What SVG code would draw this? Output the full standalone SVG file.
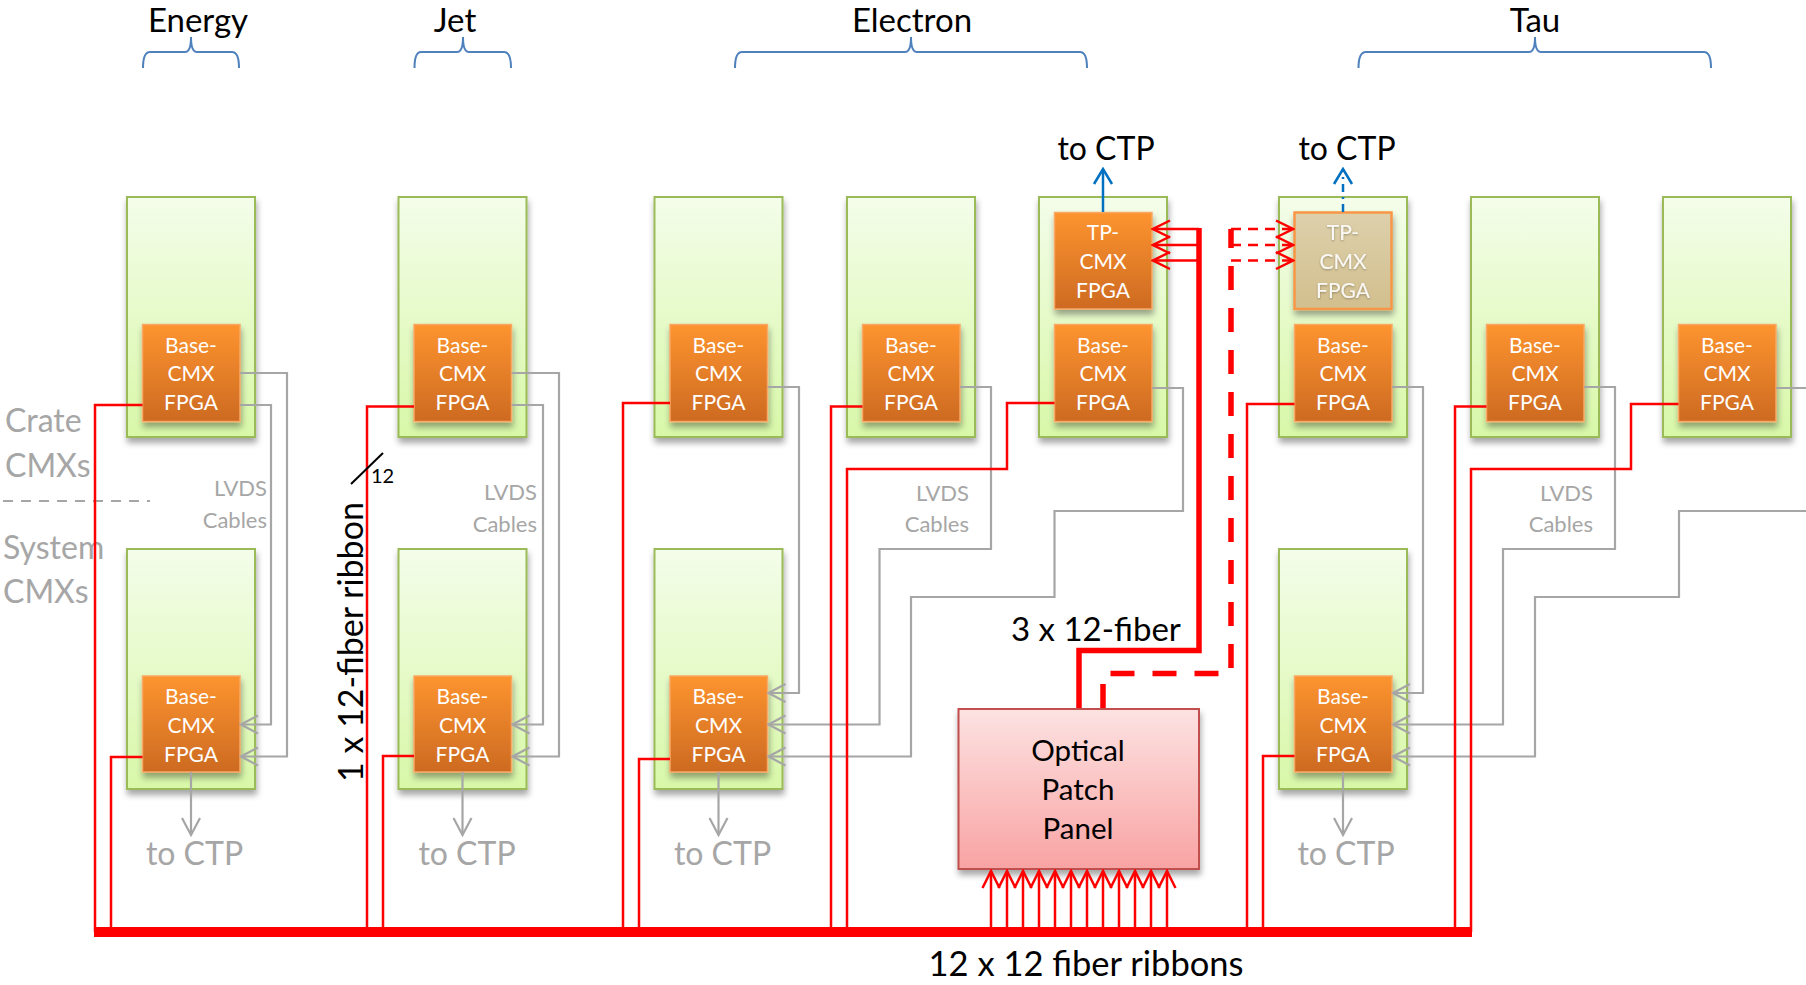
<svg xmlns="http://www.w3.org/2000/svg" width="1806" height="985" viewBox="0 0 1806 985">
<defs>
<linearGradient id="gGreen" x1="0" y1="0" x2="0" y2="1"><stop offset="0" stop-color="#f4fdea"/><stop offset="1" stop-color="#d8f8a8"/></linearGradient>
<linearGradient id="gOrange" x1="0" y1="0" x2="0" y2="1"><stop offset="0" stop-color="#fd942f"/><stop offset="1" stop-color="#cd6a22"/></linearGradient>
<linearGradient id="gBeige" x1="0" y1="0" x2="0" y2="1"><stop offset="0" stop-color="#ddd0ab"/><stop offset="1" stop-color="#d2bf8e"/></linearGradient>
<linearGradient id="gPink" x1="0" y1="0" x2="0" y2="1"><stop offset="0" stop-color="#fde2e2"/><stop offset="1" stop-color="#f9a3a3"/></linearGradient>
<filter id="sh" x="-20%" y="-20%" width="140%" height="140%"><feDropShadow dx="1" dy="5" stdDeviation="3" flood-color="#000" flood-opacity="0.35"/></filter>
<filter id="tsh" x="-20%" y="-20%" width="140%" height="140%"><feDropShadow dx="0" dy="1" stdDeviation="1" flood-color="#000" flood-opacity="0.35"/></filter>
<marker id="aGray" viewBox="-20 -11 22 22" refX="0" refY="0" markerWidth="22" markerHeight="22" markerUnits="userSpaceOnUse" orient="auto"><path d="M-17,-9 L0,0 L-17,9" fill="none" stroke="#a6a6a6" stroke-width="2.2"/></marker>
<marker id="aRed" viewBox="-20 -11 22 22" refX="0" refY="0" markerWidth="22" markerHeight="22" markerUnits="userSpaceOnUse" orient="auto"><path d="M-17,-8.5 L0,0 L-17,8.5" fill="none" stroke="#ff0000" stroke-width="2.5"/></marker>
<marker id="aBlue" viewBox="-20 -11 22 22" refX="0" refY="0" markerWidth="22" markerHeight="22" markerUnits="userSpaceOnUse" orient="auto"><path d="M-15,-9 L0,0 L-15,9" fill="none" stroke="#0070c0" stroke-width="2.5"/></marker>
</defs>
<style>
.box{fill:url(#gGreen);stroke:#9bbb59;stroke-width:2;filter:url(#sh)}
.fpga{fill:url(#gOrange);stroke:#f9a866;stroke-width:1.5;filter:url(#sh)}
.tpoff{fill:url(#gBeige);stroke:#f79646;stroke-width:2.5;filter:url(#sh)}
.ft{font-family:Lato,"Open Sans",sans-serif;font-size:21px;fill:#fff;text-anchor:middle}
.ftoff{font-family:Lato,"Open Sans",sans-serif;font-size:21px;fill:#fff;fill-opacity:0.9;text-anchor:middle;filter:url(#tsh)}
.hdr{font-family:Lato,"Open Sans",sans-serif;font-size:33px;fill:#000;text-anchor:middle}
.blk{font-family:Lato,"Open Sans",sans-serif;fill:#000}
.gt{font-family:Lato,"Open Sans",sans-serif;font-size:32px;fill:#a6a6a6}
.lv{font-family:Lato,"Open Sans",sans-serif;font-size:22px;fill:#a6a6a6;text-anchor:end}
.brace{fill:none;stroke:#4f81bd;stroke-width:2}
.red{fill:none;stroke:#ff0000;stroke-width:2.5}
.gray{fill:none;stroke:#a6a6a6;stroke-width:2.2}
</style>
<rect width="1806" height="985" fill="#ffffff"/>

<!-- headers -->
<g id="headers">
<text class="hdr" x="198" y="32">Energy</text>
<text class="hdr" x="455" y="32">Jet</text>
<text class="hdr" x="912" y="32">Electron</text>
<text class="hdr" x="1535" y="32">Tau</text>
<path class="brace" d="M143,68 Q143,52 150,52 H185 Q191,52 191,37 Q191,52 197,52 H232 Q239,52 239,68"/>
<path class="brace" d="M414.5,68 Q414.5,52 421,52 H457 Q463,52 463,37 Q463,52 469,52 H504 Q511,52 511,68"/>
<path class="brace" d="M735,68 Q735,52 742,52 H905 Q911,52 911,37 Q911,52 917,52 H1080 Q1087,52 1087,68"/>
<path class="brace" d="M1358.5,68 Q1358.5,52 1366,52 H1529 Q1535,52 1535,37 Q1535,52 1541,52 H1704 Q1711,52 1711,68"/>
</g>

<!-- side labels -->
<g id="side-labels">
<text class="gt" x="5" y="432">Crate</text>
<text class="gt" x="5" y="477">CMXs</text>
<path d="M3,501 H150" fill="none" stroke="#a6a6a6" stroke-width="2" stroke-dasharray="10 8"/>
<text class="gt" x="3" y="559">System</text>
<text class="gt" x="3" y="603">CMXs</text>
</g>

<!-- crate CMX nodes (top row) -->
<g id="energy-crate"><rect class="box" x="127" y="197" width="128" height="240"/><rect class="fpga" x="142.5" y="324.5" width="97.5" height="97"/><text class="ft" x="191" y="352.5">Base-</text><text class="ft" x="191" y="381">CMX</text><text class="ft" x="191" y="409.5">FPGA</text></g>
<g id="jet-crate"><rect class="box" x="398.5" y="197" width="128" height="240"/><rect class="fpga" x="414" y="324.5" width="97.5" height="97"/><text class="ft" x="462.5" y="352.5">Base-</text><text class="ft" x="462.5" y="381">CMX</text><text class="ft" x="462.5" y="409.5">FPGA</text></g>
<g id="electron-crate-1"><rect class="box" x="654.5" y="197" width="128" height="240"/><rect class="fpga" x="670" y="324.5" width="97.5" height="97"/><text class="ft" x="718.5" y="352.5">Base-</text><text class="ft" x="718.5" y="381">CMX</text><text class="ft" x="718.5" y="409.5">FPGA</text></g>
<g id="electron-crate-2"><rect class="box" x="847" y="197" width="128" height="240"/><rect class="fpga" x="862.5" y="324.5" width="97.5" height="97"/><text class="ft" x="911" y="352.5">Base-</text><text class="ft" x="911" y="381">CMX</text><text class="ft" x="911" y="409.5">FPGA</text></g>
<g id="electron-crate-3"><rect class="box" x="1039" y="197" width="128" height="240"/><rect class="fpga" x="1054.5" y="212.5" width="97.5" height="96.5"/><text class="ft" x="1103" y="240">TP-</text><text class="ft" x="1103" y="269">CMX</text><text class="ft" x="1103" y="298">FPGA</text><rect class="fpga" x="1054.5" y="324.5" width="97.5" height="97"/><text class="ft" x="1103" y="352.5">Base-</text><text class="ft" x="1103" y="381">CMX</text><text class="ft" x="1103" y="409.5">FPGA</text></g>
<g id="tau-crate-1"><rect class="box" x="1279" y="197" width="128" height="240"/><rect class="tpoff" x="1294.5" y="212.5" width="97" height="96.5"/><text class="ftoff" x="1343" y="240">TP-</text><text class="ftoff" x="1343" y="269">CMX</text><text class="ftoff" x="1343" y="298">FPGA</text><rect class="fpga" x="1294.5" y="324.5" width="97.5" height="97"/><text class="ft" x="1343" y="352.5">Base-</text><text class="ft" x="1343" y="381">CMX</text><text class="ft" x="1343" y="409.5">FPGA</text></g>
<g id="tau-crate-2"><rect class="box" x="1471" y="197" width="128" height="240"/><rect class="fpga" x="1486.5" y="324.5" width="97.5" height="97"/><text class="ft" x="1535" y="352.5">Base-</text><text class="ft" x="1535" y="381">CMX</text><text class="ft" x="1535" y="409.5">FPGA</text></g>
<g id="tau-crate-3"><rect class="box" x="1663" y="197" width="128" height="240"/><rect class="fpga" x="1678.5" y="324.5" width="97.5" height="97"/><text class="ft" x="1727" y="352.5">Base-</text><text class="ft" x="1727" y="381">CMX</text><text class="ft" x="1727" y="409.5">FPGA</text></g>

<!-- system CMX nodes (bottom row) -->
<g id="energy-system"><rect class="box" x="127" y="549" width="128" height="240"/><rect class="fpga" x="142.5" y="676" width="97.5" height="96"/><text class="ft" x="191" y="704">Base-</text><text class="ft" x="191" y="733">CMX</text><text class="ft" x="191" y="761.5">FPGA</text></g>
<g id="jet-system"><rect class="box" x="398.5" y="549" width="128" height="240"/><rect class="fpga" x="414" y="676" width="97.5" height="96"/><text class="ft" x="462.5" y="704">Base-</text><text class="ft" x="462.5" y="733">CMX</text><text class="ft" x="462.5" y="761.5">FPGA</text></g>
<g id="electron-system"><rect class="box" x="654.5" y="549" width="128" height="240"/><rect class="fpga" x="670" y="676" width="97.5" height="96"/><text class="ft" x="718.5" y="704">Base-</text><text class="ft" x="718.5" y="733">CMX</text><text class="ft" x="718.5" y="761.5">FPGA</text></g>
<g id="tau-system"><rect class="box" x="1279" y="549" width="128" height="240"/><rect class="fpga" x="1294.5" y="676" width="97.5" height="96"/><text class="ft" x="1343" y="704">Base-</text><text class="ft" x="1343" y="733">CMX</text><text class="ft" x="1343" y="761.5">FPGA</text></g>

<!-- optical patch panel -->
<g id="patch-panel"><rect x="958.5" y="709" width="240.5" height="160" fill="url(#gPink)" stroke="#c0504d" stroke-width="2" filter="url(#sh)"/><text class="blk" x="1078" y="761" text-anchor="middle" style="font-size:29.5px">Optical</text><text class="blk" x="1078" y="800" text-anchor="middle" style="font-size:29.5px">Patch</text><text class="blk" x="1078" y="838.5" text-anchor="middle" style="font-size:29.5px">Panel</text></g>

<!-- connectors -->
<g id="connectors">
<!-- gray LVDS cables -->
<path class="gray" d="M240,373 H287 V756.5 H241" marker-end="url(#aGray)"/>
<path class="gray" d="M240,405 H271 V724.5 H241" marker-end="url(#aGray)"/>
<path class="gray" d="M511.5,373 H559 V756.5 H512.5" marker-end="url(#aGray)"/>
<path class="gray" d="M511.5,405 H543 V724.5 H512.5" marker-end="url(#aGray)"/>
<path class="gray" d="M767.5,387 H799 V693 H768.5" marker-end="url(#aGray)"/>
<path class="gray" d="M960,387 H991 V549 H879.5 V724.5 H768.5" marker-end="url(#aGray)"/>
<path class="gray" d="M1152,388 H1183 V511 H1054.5 V597 H911 V756.5 H768.5" marker-end="url(#aGray)"/>
<path class="gray" d="M1392,387 H1423 V693 H1393" marker-end="url(#aGray)"/>
<path class="gray" d="M1584,387 H1615 V549 H1503 V724.5 H1393" marker-end="url(#aGray)"/>
<path class="gray" d="M1776,388 H1815 V511 H1679 V597 H1535 V756.5 H1393" marker-end="url(#aGray)"/>
<!-- to CTP (gray) -->
<path class="gray" d="M191,772 V835" marker-end="url(#aGray)"/>
<path class="gray" d="M462.5,772 V835" marker-end="url(#aGray)"/>
<path class="gray" d="M718.5,772 V835" marker-end="url(#aGray)"/>
<path class="gray" d="M1343,772 V835" marker-end="url(#aGray)"/>
<!-- red fibre lines -->
<path class="red" d="M142.5,405 H95 V932"/>
<path class="red" d="M142.5,757 H111 V932"/>
<path class="red" d="M414,406.5 H367 V932"/>
<path class="red" d="M414,756 H383 V932"/>
<path class="red" d="M670,403 H623 V932"/>
<path class="red" d="M670,759 H639 V932"/>
<path class="red" d="M862.5,406.5 H831 V932"/>
<path class="red" d="M1054.5,403 H1007 V469 H847 V932"/>
<path class="red" d="M1294.5,404 H1247 V932"/>
<path class="red" d="M1294.5,756 H1263 V932"/>
<path class="red" d="M1486.5,406.5 H1455 V932"/>
<path class="red" d="M1678.5,404 H1631 V469 H1471 V932"/>
<rect x="94" y="927" width="1378" height="10" fill="#ff0000"/>
<!-- patch panel inputs -->
<path class="red" d="M991,928 V871" marker-end="url(#aRed)"/>
<path class="red" d="M1007,928 V871" marker-end="url(#aRed)"/>
<path class="red" d="M1023,928 V871" marker-end="url(#aRed)"/>
<path class="red" d="M1039,928 V871" marker-end="url(#aRed)"/>
<path class="red" d="M1055,928 V871" marker-end="url(#aRed)"/>
<path class="red" d="M1071,928 V871" marker-end="url(#aRed)"/>
<path class="red" d="M1087,928 V871" marker-end="url(#aRed)"/>
<path class="red" d="M1103,928 V871" marker-end="url(#aRed)"/>
<path class="red" d="M1119,928 V871" marker-end="url(#aRed)"/>
<path class="red" d="M1135,928 V871" marker-end="url(#aRed)"/>
<path class="red" d="M1151,928 V871" marker-end="url(#aRed)"/>
<path class="red" d="M1167,928 V871" marker-end="url(#aRed)"/>
<!-- 3 x 12-fiber solid -->
<path d="M1079,708 V650.5 H1199 V228" fill="none" stroke="#ff0000" stroke-width="5.5"/>
<path class="red" d="M1199,229 H1153" marker-end="url(#aRed)"/>
<path class="red" d="M1199,245 H1153" marker-end="url(#aRed)"/>
<path class="red" d="M1199,260.5 H1153" marker-end="url(#aRed)"/>
<!-- dashed to Tau TP -->
<path d="M1103,708 V673.5 H1231 V229" fill="none" stroke="#ff0000" stroke-width="5.5" stroke-dasharray="24 18"/>
<path class="red" d="M1231,229 H1293" stroke-dasharray="10 7" marker-end="url(#aRed)"/>
<path class="red" d="M1231,245 H1293" stroke-dasharray="10 7" marker-end="url(#aRed)"/>
<path class="red" d="M1231,260.5 H1293" stroke-dasharray="10 7" marker-end="url(#aRed)"/>
<!-- blue to CTP -->
<path d="M1103,212 V169" fill="none" stroke="#0070c0" stroke-width="2.5" marker-end="url(#aBlue)"/>
<path d="M1343,212 V169" fill="none" stroke="#0070c0" stroke-width="2.5" stroke-dasharray="8 5 2 5" marker-end="url(#aBlue)"/>
<!-- ribbon tick -->
<path d="M351,484 L383,453" fill="none" stroke="#000" stroke-width="2"/>
</g>

<!-- connector labels -->
<g id="labels">
<text class="blk" x="1106" y="160" text-anchor="middle" style="font-size:32px">to CTP</text>
<text class="blk" x="1347" y="160" text-anchor="middle" style="font-size:32px">to CTP</text>
<text class="gt" x="194.5" y="865" text-anchor="middle">to CTP</text>
<text class="gt" x="467" y="865" text-anchor="middle">to CTP</text>
<text class="gt" x="722.5" y="865" text-anchor="middle">to CTP</text>
<text class="gt" x="1346" y="865" text-anchor="middle">to CTP</text>
<text class="lv" x="267" y="496">LVDS</text><text class="lv" x="267" y="528">Cables</text>
<text class="lv" x="537" y="500">LVDS</text><text class="lv" x="537" y="532">Cables</text>
<text class="lv" x="969" y="501">LVDS</text><text class="lv" x="969" y="532">Cables</text>
<text class="lv" x="1593" y="501">LVDS</text><text class="lv" x="1593" y="532">Cables</text>
<text class="blk" transform="translate(363,642) rotate(-90)" text-anchor="middle" style="font-size:34px">1 x 12-fiber ribbon</text>
<text class="blk" x="371" y="483" style="font-size:20px">12</text>
<text class="blk" x="1011" y="641" style="font-size:33px">3 x 12-fiber</text>
<text class="blk" x="1086" y="976" text-anchor="middle" style="font-size:34.5px">12 x 12 fiber ribbons</text>
</g>
</svg>
